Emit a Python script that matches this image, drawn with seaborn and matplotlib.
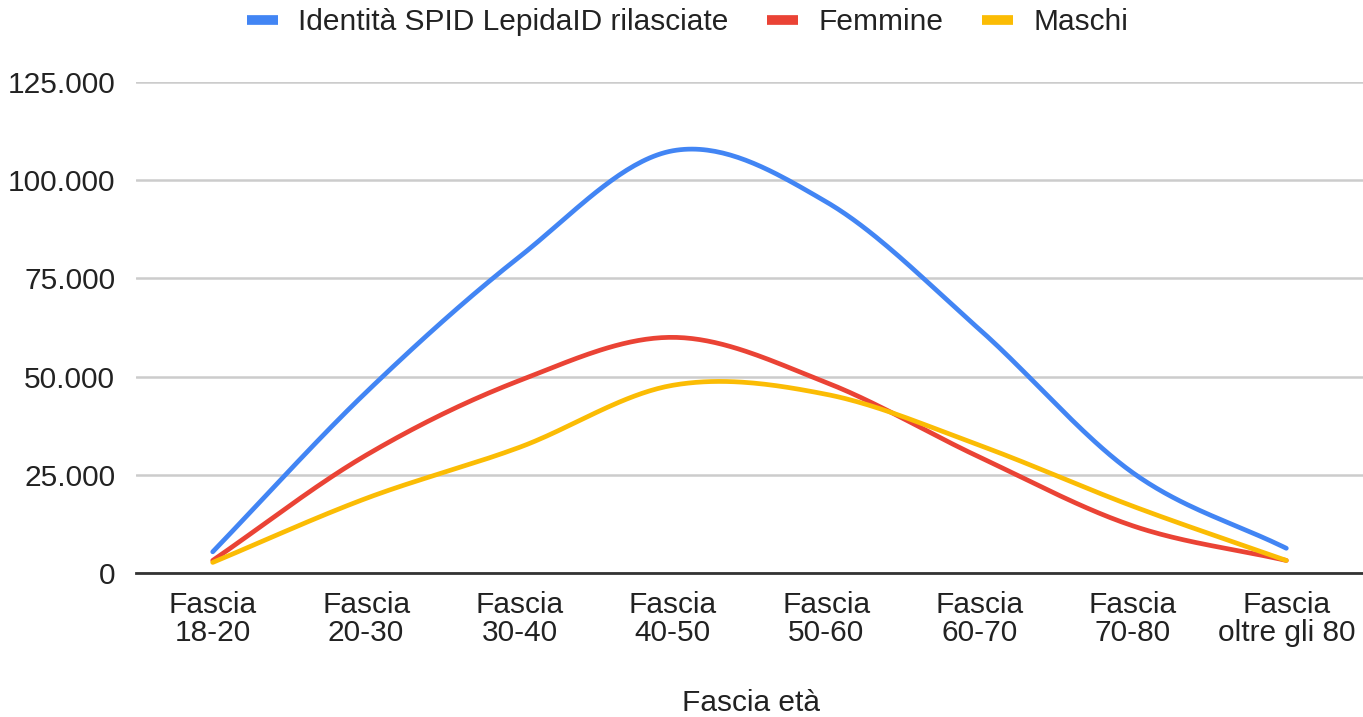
import numpy as np
import pandas as pd
import matplotlib
matplotlib.use("Agg")
import matplotlib.pyplot as plt
import seaborn as sns
from matplotlib.lines import Line2D

categories = ["Fascia\n18-20", "Fascia\n20-30", "Fascia\n30-40", "Fascia\n40-50",
              "Fascia\n50-60", "Fascia\n60-70", "Fascia\n70-80", "Fascia\noltre gli 80"]
totale = [5400, 46000, 80500, 107500, 94500, 62000, 25500, 6300]
femmine = [3200, 30000, 49000, 60000, 48500, 29500, 12000, 3200]
maschi = [2700, 19000, 32000, 47800, 45500, 32500, 17000, 3200]
series_names = ["Identità SPID LepidaID rilasciate", "Femmine", "Maschi"]
colors = ["#4285F4", "#EA4335", "#FBBC04"]
yticks = [0, 25000, 50000, 75000, 100000, 125000]
ytick_labels = ["0", "25.000", "50.000", "75.000", "100.000", "125.000"]
xlabel = "Fascia età"


def smooth(y, n=40):
    """Catmull-Rom spline through the data points (rendering only)."""
    y = np.asarray(y, dtype=float)
    x = np.arange(len(y), dtype=float)
    P = np.concatenate([[2 * y[0] - y[1]], y, [2 * y[-1] - y[-2]]])
    xs, ys = [], []
    for i in range(len(y) - 1):
        t = np.linspace(0, 1, n, endpoint=(i == len(y) - 2))
        p0, p1, p2, p3 = P[i], P[i + 1], P[i + 2], P[i + 3]
        seg = 0.5 * ((2 * p1) + (-p0 + p2) * t + (2 * p0 - 5 * p1 + 4 * p2 - p3) * t ** 2
                     + (-p0 + 3 * p1 - 3 * p2 + p3) * t ** 3)
        xs.append(x[i] + t)
        ys.append(seg)
    return np.concatenate(xs), np.concatenate(ys)


frames = []
for name, vals in zip(series_names, [totale, femmine, maschi]):
    sx, sy = smooth(vals)
    frames.append(pd.DataFrame({"x": sx, "y": sy, "serie": name}))
df = pd.concat(frames, ignore_index=True)

sns.set_theme(style="white")
plt.rcParams["font.family"] = ["Liberation Sans", "DejaVu Sans"]

FS = 21.5
fig = plt.figure(figsize=(13.63, 7.17), dpi=100)
ax = fig.add_axes([0.0998, 0.2008, 0.9002, 0.6848])

sns.lineplot(data=df, x="x", y="y", hue="serie", hue_order=series_names,
             palette=colors, sort=False, linewidth=3.4, ax=ax, legend=False,
             estimator=None)

ax.set_xlim(-0.5, 7.5)
ax.set_ylim(0, 125000)
ax.set_yticks(yticks)
ax.set_yticklabels(ytick_labels, fontsize=FS, color="#222222")
ax.set_xticks(range(len(categories)))
ax.set_xticklabels(categories, fontsize=FS, color="#222222", linespacing=1.0)
ax.tick_params(axis="both", length=0)
ax.tick_params(axis="y", pad=15)
ax.tick_params(axis="x", pad=13)
ax.grid(axis="y", color="#cccccc", linewidth=1.8)
ax.set_axisbelow(True)
for s in ["top", "right", "left"]:
    ax.spines[s].set_visible(False)
ax.spines["bottom"].set_color("#333333")
ax.spines["bottom"].set_linewidth(2)
ax.spines["bottom"].set_zorder(5)
ax.set_xlabel("")
ax.set_ylabel("")
fig.text(751 / 1363, 1 - 703 / 717, xlabel, fontsize=FS, color="#222222",
         ha="center", va="center")

handles = [Line2D([0], [0], color=c, linewidth=7, solid_capstyle="butt") for c in colors]
fig.legend(handles, series_names, loc="center", bbox_to_anchor=(0.5044, 0.969),
           ncol=3, frameon=False, fontsize=FS, handlelength=1.04,
           columnspacing=1.3, handletextpad=0.67, labelcolor="#222222",
           borderaxespad=0, borderpad=0)

fig.savefig("out.png", dpi=100)
